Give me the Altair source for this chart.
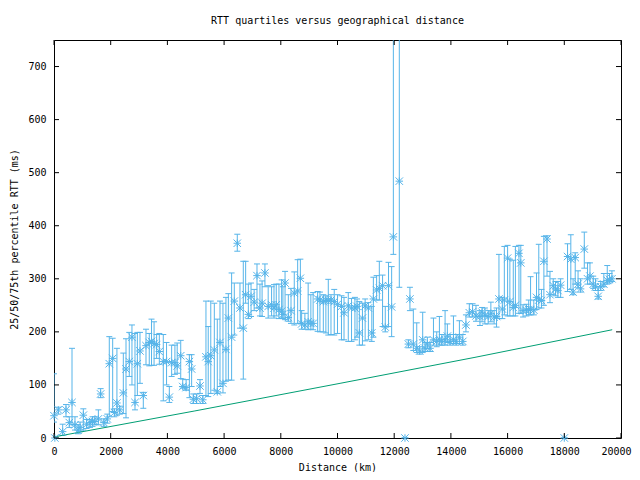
import altair as alt
import pandas as pd

# distance (km), median RTT, 25th percentile, 75th percentile (ms)
dist = [0, 30, 152, 306, 423, 540, 635, 740, 850, 920, 1035, 1150, 1270, 1360, 1440, 1565, 1645, 1760, 1880, 1950,
        2070, 2130, 2220, 2320, 2445, 2540, 2655, 2750, 2857, 2940, 3033, 3150, 3245, 3360, 3440, 3530, 3620, 3715, 3855, 3970,
        4068, 4150, 4265, 4345, 4470, 4540, 4660, 4775, 4855, 4915, 5030, 5150, 5250, 5360, 5440, 5530, 5655, 5760, 5855, 5960,
        6065, 6150, 6265, 6360, 6465, 6560, 6677, 6760, 6855, 6950, 7060, 7160, 7265, 7340, 7440, 7555, 7675, 7760, 7840, 7935,
        8030, 8075, 8150, 8265, 8360, 8475, 8595, 8690, 8735, 8850, 8965, 9060, 9140, 9300, 9380, 9500, 9590, 9675, 9770, 9885,
        10000, 10140, 10230, 10380, 10495, 10615, 10690, 10770, 10880, 10975, 11090, 11210, 11265, 11380, 11475, 11590, 11685, 11800, 11910, 11970,
        12180, 12380, 12500, 12555, 12675, 12795, 12900, 13005, 13090, 13170, 13265, 13385, 13500, 13595, 13680, 13795, 13875, 13970, 14090, 14185,
        14300, 14420, 14530, 14650, 14765, 14885, 15025, 15100, 15200, 15315, 15410, 15525, 15610, 15695, 15815, 15885, 16000, 16080, 16200, 16275,
        16400, 16465, 16545, 16665, 16745, 16810, 16925, 17020, 17100, 17195, 17280, 17390, 17495, 17610, 17690, 17775, 17870, 18000, 18115, 18230,
        18310, 18385, 18485, 18575, 18705, 18820, 18905, 19020, 19100, 19195, 19285, 19395, 19515, 19595, 19680]
med = [42, 0, 53, 12, 53, 29, 67, 25, 15, 20, 43, 26, 29, 31, 31, 36, 83, 29, 36, 140,
       150, 48, 66, 53, 85, 130, 144, 190, 67, 140, 164, 80, 174, 180, 182, 178, 176, 163, 144, 144,
       77, 142, 142, 136, 155, 97, 95, 144, 130, 73, 74, 98, 72, 153, 144, 155, 166, 87, 180, 103,
       167, 226, 190, 258, 367, 245, 207, 270, 233, 267, 256, 306, 245, 254, 311, 248, 251, 245, 251, 242,
       239, 233, 292, 227, 240, 273, 277, 301, 215, 213, 219, 216, 216, 262, 260, 257, 260, 259, 260, 257,
       252, 248, 236, 249, 245, 245, 248, 198, 226, 249, 245, 198, 262, 279, 282, 287, 209, 287, 247, 379,
       484, 0, 177, 262, 177, 169, 164, 185, 169, 177, 169, 185, 182, 186, 182, 185, 192, 182, 185, 182,
       190, 182, 213, 236, 238, 230, 229, 237, 231, 229, 235, 228, 229, 262, 243, 260, 339, 257, 246, 250,
       348, 330, 240, 241, 242, 242, 241, 265, 260, 259, 333, 375, 270, 287, 281, 278, 288, 0, 342, 337,
       275, 340, 290, 281, 356, 300, 305, 290, 285, 267, 285, 290, 297, 299, 300]
lo = [30, 0, 45, 5, 40, 20, 25, 15, 8, 12, 15, 18, 20, 22, 25, 25, 76, 22, 28, 40,
      50, 40, 43, 45, 46, 38, 116, 100, 53, 80, 103, 56, 138, 136, 137, 137, 150, 139, 70, 100,
      67, 116, 120, 122, 112, 94, 90, 76, 97, 65, 65, 84, 65, 80, 78, 84, 90, 84, 97, 85,
      107, 109, 109, 194, 352, 207, 111, 254, 225, 229, 240, 245, 230, 229, 285, 226, 230, 226, 230, 225,
      226, 225, 223, 220, 216, 213, 216, 216, 205, 205, 204, 205, 204, 201, 200, 200, 198, 194, 195, 194,
      197, 185, 185, 182, 182, 185, 190, 175, 175, 183, 185, 182, 190, 260, 260, 210, 200, 210, 191, 346,
      284, 0, 170, 240, 165, 161, 158, 161, 163, 168, 163, 175, 172, 175, 175, 175, 180, 175, 178, 175,
      178, 175, 200, 228, 228, 220, 212, 219, 215, 215, 219, 215, 209, 225, 225, 232, 230, 230, 230, 230,
      235, 235, 228, 230, 232, 232, 232, 242, 245, 245, 250, 305, 255, 270, 268, 265, 265, 0, 276, 280,
      270, 290, 283, 275, 320, 290, 290, 282, 278, 262, 278, 285, 290, 292, 295]
hi = [121, 0, 58, 26, 63, 40, 169, 40, 25, 30, 55, 35, 35, 40, 40, 53, 93, 36, 45, 191,
      188, 55, 169, 60, 160, 187, 199, 213, 197, 199, 199, 86, 205, 197, 224, 219, 195, 197, 195, 180,
      97, 175, 175, 179, 184, 111, 110, 157, 157, 83, 83, 110, 80, 258, 210, 258, 254, 224, 258, 254,
      265, 272, 311, 292, 384, 292, 333, 333, 290, 292, 280, 328, 290, 296, 328, 287, 285, 289, 290, 290,
      298, 285, 314, 270, 282, 313, 336, 337, 240, 235, 292, 270, 274, 276, 275, 270, 268, 299, 270, 280,
      270, 268, 265, 274, 263, 265, 262, 257, 254, 262, 255, 248, 303, 306, 333, 307, 248, 331, 323, 800,
      800, 0, 185, 284, 243, 217, 172, 237, 180, 190, 180, 226, 200, 229, 195, 240, 215, 195, 230, 195,
      221, 195, 232, 253, 253, 250, 240, 246, 245, 240, 256, 240, 245, 346, 265, 361, 363, 337, 335, 361,
      363, 363, 251, 252, 260, 304, 260, 311, 365, 280, 380, 381, 314, 300, 295, 295, 300, 0, 366, 383,
      300, 349, 315, 300, 388, 330, 330, 305, 300, 285, 295, 310, 325, 310, 315]

# theoretical minimum RTT line
line_x = [0, 4970, 10090, 14850, 19690]
line_y = [2, 51, 103, 152, 204]

x_ticks = [0, 2000, 4000, 6000, 8000, 10000, 12000, 14000, 16000, 18000, 20000]
y_ticks = [0, 100, 200, 300, 400, 500, 600, 700]

FONT = "DejaVu Sans Mono"
BLUE = "#56b4e9"
GREEN = "#009e73"
W, H = 567, 398

df = pd.DataFrame({"d": dist, "med": med, "lo": lo, "hi": hi})
line_df = pd.DataFrame({"d": line_x, "rtt": line_y})
xt = pd.DataFrame({"v": x_ticks})
yt = pd.DataFrame({"v": y_ticks})

xscale = alt.Scale(domain=[0, 20000], nice=False, zero=False)
yscale = alt.Scale(domain=[0, 750], nice=False, zero=False)

xaxis = alt.Axis(values=x_ticks, format="d", ticks=False, domain=False, grid=False, labelFont=FONT, labelFontSize=10,
                 labelColor="black", labelPadding=8, labelFlush=False,
                 labelOffset={"condition": {"test": "datum.value == 20000", "value": -5}, "value": 0},
                 title="Distance (km)", titleFont=FONT,
                 titleFontSize=10, titleFontWeight="normal", titleColor="black", titlePadding=6)
yaxis = alt.Axis(values=y_ticks, format="d", ticks=False, domain=False, grid=False, labelFont=FONT, labelFontSize=10,
                 labelColor="black", labelPadding=8, labelFlush=False, title="25/50/75th percentile RTT (ms)",
                 titleFont=FONT, titleFontSize=10, titleFontWeight="normal", titleColor="black", titlePadding=8)

base = alt.Chart(df)

bars = base.mark_rule(color=BLUE, strokeWidth=1, clip=True).encode(
    x=alt.X("d:Q", scale=xscale, axis=xaxis),
    y=alt.Y("lo:Q", scale=yscale, axis=yaxis),
    y2="hi:Q",
)
cap_hi = base.mark_rule(color=BLUE, strokeWidth=1, clip=True, xOffset=-3, x2Offset=3).encode(
    x=alt.X("d:Q", scale=xscale, axis=xaxis), x2="d:Q", y=alt.Y("hi:Q", scale=yscale, axis=yaxis))
cap_lo = base.mark_rule(color=BLUE, strokeWidth=1, clip=True, xOffset=-3, x2Offset=3).encode(
    x=alt.X("d:Q", scale=xscale, axis=xaxis), x2="d:Q", y=alt.Y("lo:Q", scale=yscale, axis=yaxis))

star = "M-1,0L1,0M0,-1L0,1M-1,-1L1,1M-1,1L1,-1"
pts = base.mark_point(shape=star, size=56, filled=False, color=BLUE, strokeWidth=1, opacity=1).encode(
    x=alt.X("d:Q", scale=xscale, axis=xaxis), y=alt.Y("med:Q", scale=yscale, axis=yaxis))

line = alt.Chart(line_df).mark_line(color=GREEN, strokeWidth=1, clip=True).encode(
    x=alt.X("d:Q", scale=xscale, axis=xaxis), y=alt.Y("rtt:Q", scale=yscale, axis=yaxis))

tx_b = alt.Chart(xt).mark_rule(color="black", strokeWidth=1).encode(
    x=alt.X("v:Q", scale=xscale, axis=xaxis), y=alt.value(H), y2=alt.value(H - 5))
tx_t = alt.Chart(xt).mark_rule(color="black", strokeWidth=1).encode(
    x=alt.X("v:Q", scale=xscale, axis=xaxis), y=alt.value(0), y2=alt.value(5))
ty_l = alt.Chart(yt).mark_rule(color="black", strokeWidth=1).encode(
    y=alt.Y("v:Q", scale=yscale, axis=yaxis), x=alt.value(0), x2=alt.value(5))
ty_r = alt.Chart(yt).mark_rule(color="black", strokeWidth=1).encode(
    y=alt.Y("v:Q", scale=yscale, axis=yaxis), x=alt.value(W), x2=alt.value(W - 5))

chart = alt.layer(bars, cap_hi, cap_lo, line, pts, tx_b, tx_t, ty_l, ty_r).properties(
    width=W, height=H,
    title=alt.TitleParams("RTT quartiles versus geographical distance", font=FONT, fontSize=10,
                          fontWeight="normal", color="black", anchor="middle", offset=14),
    autosize=alt.AutoSizeParams(type="none"),
    padding={"left": 46, "top": 32, "right": 11, "bottom": 34},
    background="white",
).configure_view(stroke="black", strokeWidth=1)

chart.save("out.html", embed_options={"renderer": "svg", "actions": False})
